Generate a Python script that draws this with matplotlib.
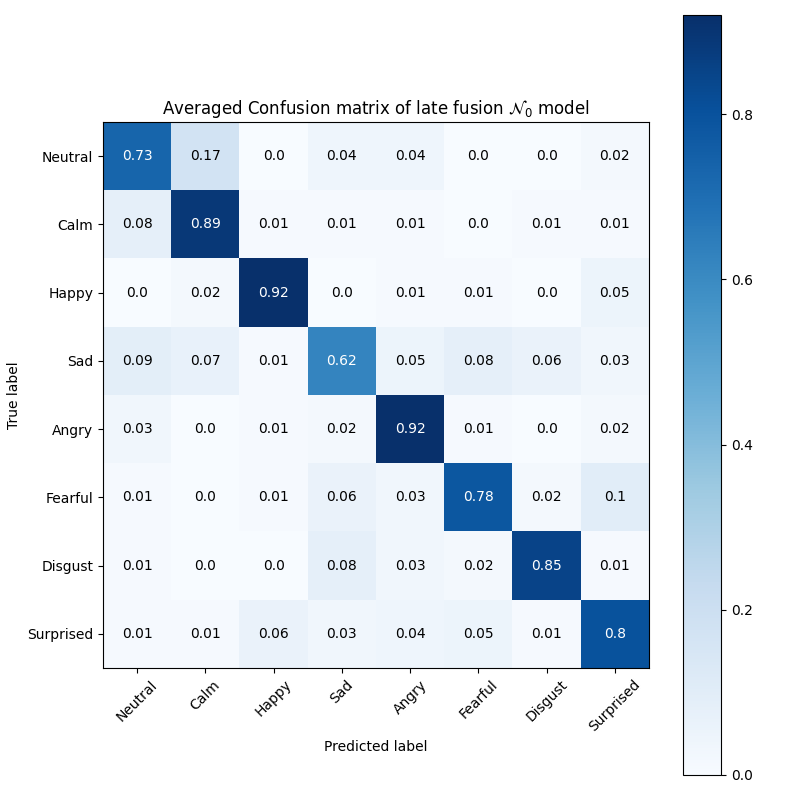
import matplotlib
matplotlib.use("Agg")
import matplotlib.pyplot as plt
import numpy as np

classes = ["Neutral", "Calm", "Happy", "Sad", "Angry", "Fearful", "Disgust", "Surprised"]
row_neutral = [0.73, 0.17, 0.0, 0.04, 0.04, 0.0, 0.0, 0.02]
row_calm = [0.08, 0.89, 0.01, 0.01, 0.01, 0.0, 0.01, 0.01]
row_happy = [0.0, 0.02, 0.92, 0.0, 0.01, 0.01, 0.0, 0.05]
row_sad = [0.09, 0.07, 0.01, 0.62, 0.05, 0.08, 0.06, 0.03]
row_angry = [0.03, 0.0, 0.01, 0.02, 0.92, 0.01, 0.0, 0.02]
row_fearful = [0.01, 0.0, 0.01, 0.06, 0.03, 0.78, 0.02, 0.1]
row_disgust = [0.01, 0.0, 0.0, 0.08, 0.03, 0.02, 0.85, 0.01]
row_surprised = [0.01, 0.01, 0.06, 0.03, 0.04, 0.05, 0.01, 0.8]

cm = np.array([row_neutral, row_calm, row_happy, row_sad, row_angry,
               row_fearful, row_disgust, row_surprised])

fig = plt.figure(figsize=(8, 8), dpi=100)
fig.subplots_adjust(left=103 / 800, right=(103 + 682.5) / 800,
                    bottom=25 / 800, top=1 - 15 / 800)
plt.imshow(cm, interpolation="nearest", cmap=plt.cm.Blues)
plt.title(r"Averaged Confusion matrix of late fusion $\mathcal{N}_0$ model")
plt.colorbar()
ticks = np.arange(len(classes))
plt.xticks(ticks, classes, rotation=45)
plt.yticks(ticks, classes)
thresh = cm.max() / 2.0
for i in range(cm.shape[0]):
    for j in range(cm.shape[1]):
        plt.text(j, i, str(cm[i, j]), horizontalalignment="center",
                 verticalalignment="center",
                 color="white" if cm[i, j] > thresh else "black")
plt.ylabel("True label")
plt.xlabel("Predicted label")
plt.savefig("out.png", dpi=100)
